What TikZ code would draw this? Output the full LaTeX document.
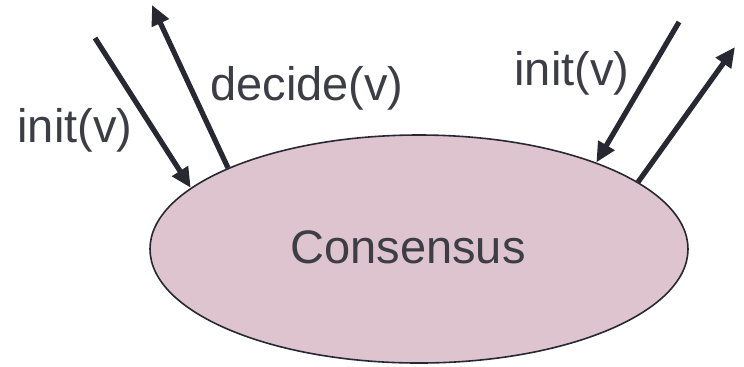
\documentclass[tikz,border=0pt]{standalone}
\usepackage{fontspec}
\setmainfont{Liberation Sans}
\usetikzlibrary{shapes.geometric, arrows.meta}
\definecolor{blobfill}{RGB}{221,196,207}
\definecolor{inkdark}{RGB}{40,40,50}
\tikzset{
  cs blob/.style={
    ellipse, draw=inkdark, line width=0.8pt, fill=blobfill,
    minimum width=269pt, minimum height=114pt, inner sep=0pt
  },
  cs label/.style={
    text=inkdark!90, font=\fontsize{23.5}{28}\selectfont, inner sep=0pt
  },
  cs arrow/.style={
    -{Triangle[length=10pt, width=9pt]}, line width=2.6pt, draw=inkdark
  }
}
\begin{document}
\begin{tikzpicture}[x=0.5pt, y=-0.5pt]
\useasboundingbox (0,0) rectangle (744,366);

% ====== the consensus object ======
\node[cs blob] (consensus) at (419,249) {};
\node[cs label] (conslabel) at (408,247) {Consensus};

% ====== free ends of the arrows ======
\coordinate (initLsrc) at (95,38);
\coordinate (decideDst) at (152,5);
\coordinate (initRsrc) at (679,22);
\coordinate (outRdst) at (735,47);

% ====== arrows ======
\draw[cs arrow] (initLsrc) -- (consensus.165);
\draw[cs arrow] (consensus.157) -- (decideDst);
\draw[cs arrow] (initRsrc) -- (consensus.26);
\draw[cs arrow] (consensus.17) -- (outRdst);

% ====== labels ======
\node[cs label] (initL) at (75,130) {init(v)};
\node[cs label] (decide) at (307,88) {decide(v)};
\node[cs label] (initR) at (572,73) {init(v)};

\end{tikzpicture}
\end{document}
